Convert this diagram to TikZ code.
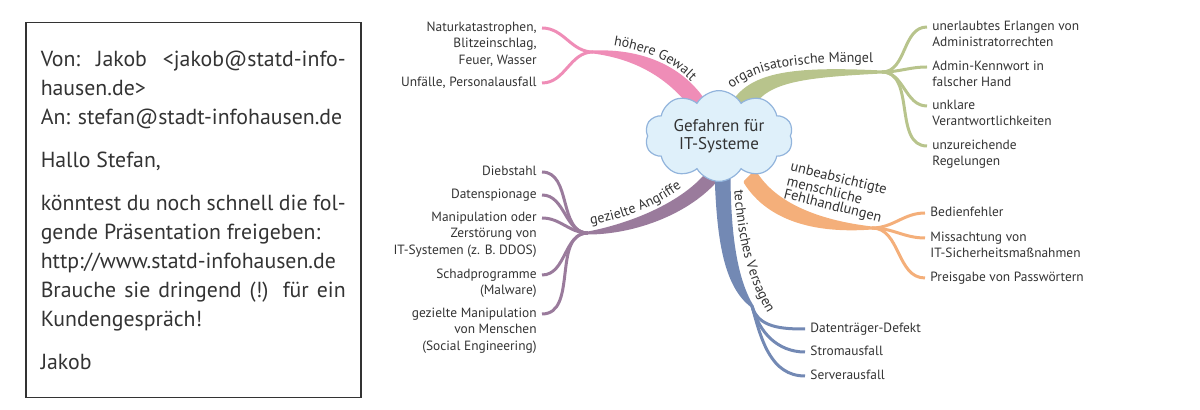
\documentclass[tikz,border=0pt]{standalone}
\usepackage{fontspec}
\setmainfont{PT Sans}
\usetikzlibrary{shapes,positioning,backgrounds,decorations.text}

\definecolor{pinkB}{HTML}{EF8DB7}
\definecolor{greenB}{HTML}{B8C48C}
\definecolor{purpB}{HTML}{9A7B9C}
\definecolor{blueB}{HTML}{7389B4}
\definecolor{orngB}{HTML}{F4AF7A}
\definecolor{cloudF}{HTML}{DFF0FA}
\definecolor{cloudD}{HTML}{92B4DC}
\definecolor{txt}{HTML}{333333}
\definecolor{frame}{HTML}{333333}

\newcommand\branchfont{\fontsize{7}{8}\selectfont\color{txt}}

\begin{document}
\begin{tikzpicture}[x=0.5pt,y=-0.5pt]
	\tikzstyle{every node}=[font=\fontsize{6.7}{8.2}\selectfont, text=txt]
	\tikzstyle{leafR}=[align=left, anchor=base west, inner sep=0pt]
	\tikzstyle{leafL}=[align=right, anchor=base east, inner sep=0pt]
	\tikzstyle{twig}=[line width=1.5pt]
	\tikzstyle{band}=[line width=1.5pt, line join=round]
	\tikzstyle{rib}=[decorate, decoration={text along path, text align=center}]
	\useasboundingbox (0,0) rectangle (1200,410);

	% mail
	\node (mail) [draw=frame, line width=0.75pt, anchor=north west, text width=152.5pt, minimum height=187.5pt, inner xsep=7.5pt, align=justify, font=\fontsize{10.9}{14.5}\selectfont, text=txt] at (25,22) {\hyphenpenalty=10000\exhyphenpenalty=10000
		Von:\ \ Jakob\ \ <jakob@statd-info-\linebreak hausen.de>\\
		An: stefan@stadt-infohausen.de\par\vspace{7pt}
		Hallo Stefan,\par\vspace{7pt}
		könntest du noch schnell die fol-\linebreak gende Präsentation freigeben:\\
		http://www.statd-infohausen.de\\
		Brauche sie dringend (!) für ein\linebreak Kundengespräch!\par\vspace{7pt}
		Jakob};

	% centre
	\node (cloud) [cloud, cloud puffs=10, cloud puff arc=120, aspect=1.8, draw=cloudD, fill=cloudF, line width=0.6pt, minimum width=74pt, minimum height=41pt, inner sep=0pt, align=center, font=\fontsize{8.5}{9.3}\selectfont] at (719,136) {Gefahren für\\IT-Systeme};

	\coordinate (jp) at (593,52);
	\coordinate (jg) at (882,72);
	\coordinate (ja) at (588,233);
	\coordinate (jt) at (752,306);
	\coordinate (jh) at (872,228);

	\begin{pgfonlayer}{background}
		\filldraw[band, pinkB] (jp) .. controls (640,50) and (682,66) .. (706,104) -- (694,110) .. controls (672,80) and (640,58) .. (jp) -- cycle;
		\filldraw[band, greenB] (735,100) .. controls (755,72) and (800,68) .. (jg) .. controls (805,76) and (768,80) .. (752,106) -- cycle;
		\filldraw[band, purpB] (ja) .. controls (630,225) and (680,205) .. (706,175) -- (718,178) .. controls (690,212) and (635,233) .. (ja) -- cycle;
		\filldraw[band, blueB] (716,172) .. controls (718,235) and (724,285) .. (jt) .. controls (736,280) and (729,235) .. (729,172) -- cycle;
		\filldraw[band, orngB] (755,172) .. controls (775,205) and (820,222) .. (jh) .. controls (820,232) and (770,222) .. (745,182) -- cycle;
	\end{pgfonlayer}

	% hoehere Gewalt
	\coordinate (ep1) at (542,28);
	\coordinate (ep2) at (542,83);
	\draw[twig, pinkB] (jp) to[out=180,in=0] (ep1);
	\draw[twig, pinkB] (jp) to[out=180,in=0] (ep2);
	\node[leafL] (np1) at ([xshift=-2.5pt,yshift=-18.2pt]ep1) {Naturkatastrophen,\\Blitzeinschlag,\\Feuer, Wasser};
	\node[leafL] (np2) at ([xshift=-2.5pt,yshift=-1.8pt]ep2) {Unfälle, Personalausfall};
	\path[rib, decoration={text={|\branchfont|höhere Gewalt}}] (605,44) .. controls (648,50) and (676,62) .. (697,88);

	% organisatorische Maengel
	\coordinate (eg1) at (927,27);
	\coordinate (eg2) at (927,67);
	\coordinate (eg3) at (927,106);
	\coordinate (eg4) at (927,146);
	\foreach \e in {eg1,eg2,eg3,eg4}
		\draw[twig, greenB] (jg) to[out=0,in=180] (\e);
	\node[leafR] (ng1) at ([xshift=2.5pt,yshift=-10pt]eg1) {unerlaubtes Erlangen von\\Administratorrechten};
	\node[leafR] (ng2) at ([xshift=2.5pt,yshift=-10pt]eg2) {Admin-Kennwort in\\falscher Hand};
	\node[leafR] (ng3) at ([xshift=2.5pt,yshift=-10pt]eg3) {unklare\\Verantwortlichkeiten};
	\node[leafR] (ng4) at ([xshift=2.5pt,yshift=-10pt]eg4) {unzureichende\\Regelungen};
	\path[rib, decoration={text={|\branchfont|organisatorische Mängel}}] (728,92) .. controls (755,66) and (800,62) .. (878,62);

	% gezielte Angriffe
	\coordinate (ea1) at (542,172);
	\coordinate (ea2) at (542,195);
	\coordinate (ea3) at (542,218);
	\coordinate (ea4) at (542,275);
	\coordinate (ea5) at (542,314);
	\foreach \e in {ea1,ea2,ea3,ea4,ea5}
		\draw[twig, purpB] (ja) to[out=180,in=0] (\e);
	\node[leafL] (na1) at ([xshift=-2.5pt,yshift=-1.8pt]ea1) {Diebstahl};
	\node[leafL] (na2) at ([xshift=-2.5pt,yshift=-1.8pt]ea2) {Datenspionage};
	\node[leafL] (na3) at ([xshift=-2.5pt,yshift=-18.2pt]ea3) {Manipulation oder\\Zerstörung von\\IT-Systemen (z. B. DDOS)};
	\node[leafL] (na4) at ([xshift=-2.5pt,yshift=-10pt]ea4) {Schadprogramme\\(Malware)};
	\node[leafL] (na5) at ([xshift=-2.5pt,yshift=-18.2pt]ea5) {gezielte Manipulation\\von Menschen\\(Social Engineering)};
	\path[rib, decoration={text={|\branchfont|gezielte Angriffe}}] (583,226) .. controls (620,221) and (660,207) .. (688,182);

	% technisches Versagen
	\coordinate (et1) at (805,329);
	\coordinate (et2) at (805,352);
	\coordinate (et3) at (805,376);
	\foreach \e in {et1,et2,et3}
		\draw[twig, blueB] (jt) to[out=-75,in=180] (\e);
	\node[leafR] (nt1) at ([xshift=2.5pt,yshift=-1.8pt]et1) {Datenträger-Defekt};
	\node[leafR] (nt2) at ([xshift=2.5pt,yshift=-1.8pt]et2) {Stromausfall};
	\node[leafR] (nt3) at ([xshift=2.5pt,yshift=-1.8pt]et3) {Serverausfall};
	\path[rib, decoration={text={|\branchfont|technisches Versagen}}] (734,186) .. controls (737,236) and (747,281) .. (770,317);

	% menschliche Fehlhandlungen
	\coordinate (eh1) at (925,213);
	\coordinate (eh2) at (925,238);
	\coordinate (eh3) at (925,278);
	\foreach \e in {eh1,eh2,eh3}
		\draw[twig, orngB] (jh) to[out=0,in=180] (\e);
	\node[leafR] (nh1) at ([xshift=2.5pt,yshift=-1.8pt]eh1) {Bedienfehler};
	\node[leafR] (nh2) at ([xshift=2.5pt,yshift=-10pt]eh2) {Missachtung von\\IT-Sicherheitsmaßnahmen};
	\node[leafR] (nh3) at ([xshift=2.5pt,yshift=-1.8pt]eh3) {Preisgabe von Passwörtern};
	\node (lhum) [rotate=-14, align=left, inner sep=0pt, font=\fontsize{7.2}{6.5}\selectfont] at (836,193) {unbeabsichtigte\\menschliche\\Fehlhandlungen};
\end{tikzpicture}
\end{document}
